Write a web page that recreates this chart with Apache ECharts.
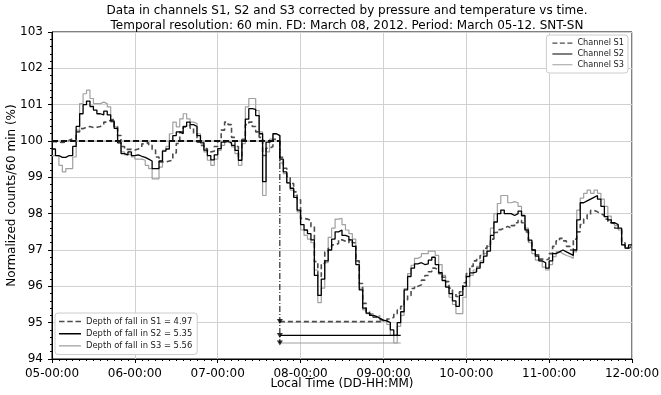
<!DOCTYPE html>
<html>
<head>
<meta charset="utf-8">
<script src="https://cdn.jsdelivr.net/npm/echarts@6/dist/echarts.min.js"></script>
<style>
html,body{margin:0;padding:0;background:#fff;}
#chart{width:661px;height:395px;}
</style>
</head>
<body>
<div id="chart"></div>
<script>
// Tick labels of the x axis (one per day)
var tickLabels = ['05-00:00','06-00:00','07-00:00','08-00:00','09-00:00','10-00:00','11-00:00','12-00:00'];

// Hourly values, hour 0 = 05-00:00
var s1 = [
99.98,99.97,99.96,99.97,100.02,100.06,100.06,100.25,100.34,100.38,100.4,100.37,100.38,100.4,100.45,100.52,100.57,100.6,100.4,100.15,
99.85,99.77,99.77,99.75,99.78,99.83,99.92,99.96,99.88,99.75,99.56,99.42,99.42,99.45,99.47,99.67,99.93,100.25,100.39,100.43,100.35,100.2,99.97,99.88,99.79,99.7,99.72,99.85,
100.0,100.3,100.52,100.45,100.1,99.85,99.56,100.05,100.45,100.52,100.4,100.25,100.1,99.6,99.8,99.85,100.05,100.0,
99.55,99.25,99.02,98.83,98.6,98.38,97.87,97.85,97.82,97.64,96.68,96.27,96.63,96.95,97.05,97.14,97.18,97.28,97.24,97.2,97.28,97.2,96.7,96.08,95.53,95.3,95.22,95.15,95.1,95.06,
95.03,95.1,95.15,95.25,95.35,95.45,95.63,95.75,95.94,96.0,96.04,96.17,96.3,96.4,96.5,96.45,96.35,96.25,96.13,95.95,95.8,95.72,95.85,96.1,96.35,96.55,96.7,96.77,96.85,97.05,97.15,97.3,97.48,97.56,97.6,97.65,
97.6,97.67,97.75,97.82,97.75,97.5,97.25,97.0,96.87,96.75,96.73,96.75,96.9,97.1,97.25,97.32,97.25,97.1,97.0,97.3,97.5,97.7,97.85,97.97,98.09,98.05,98.0,97.95,97.85,97.75,97.72,97.6,97.55,97.2,97.05,97.1
];
var s2 = [
99.78,99.6,99.55,99.55,99.6,99.6,99.85,100.4,100.75,101.0,101.1,100.95,100.85,100.75,100.72,100.82,100.72,100.55,100.35,99.95,
99.65,99.62,99.7,99.6,99.62,99.58,99.55,99.5,99.45,99.24,99.24,99.45,99.72,99.78,100.0,100.15,100.25,100.2,100.4,100.52,100.45,100.4,100.15,99.95,99.75,99.6,99.48,99.62,
99.79,99.97,100.0,99.95,99.88,99.74,99.47,100.0,100.6,100.89,100.87,100.7,100.2,98.88,99.97,100.0,100.2,100.15,
99.5,99.15,98.85,98.7,98.45,98.1,97.7,97.55,97.45,97.28,96.3,95.75,96.2,96.7,97.0,97.3,97.5,97.55,97.4,97.37,97.28,97.1,96.6,95.9,95.4,95.26,95.2,95.17,95.12,95.07,
95.05,95.0,94.8,94.65,95.0,95.3,95.9,96.27,96.5,96.62,96.65,96.6,96.62,96.72,96.8,96.6,96.38,96.16,95.98,95.8,95.6,95.45,95.75,96.0,96.27,96.37,96.4,96.5,96.65,96.83,96.97,97.4,97.77,98.0,98.1,98.0,
98.0,97.95,98.0,98.07,97.95,97.55,97.27,97.0,96.83,96.7,96.65,96.5,96.7,96.9,96.95,97.0,96.95,96.9,96.85,97.0,97.83,98.3,98.35,98.4,98.45,98.5,98.4,98.2,97.92,97.83,97.75,97.7,97.6,97.14,97.05,97.14
];
var s3 = [
99.6,99.6,99.33,99.15,99.24,99.24,99.56,100.3,101.03,101.3,101.4,101.17,101.03,101.03,101.07,101.03,100.94,100.52,100.39,100.0,
99.7,99.62,99.65,99.56,99.5,99.5,99.47,99.33,99.24,98.96,98.96,99.28,99.74,99.85,100.2,100.52,100.39,100.61,100.75,100.61,100.52,100.48,100.2,100.0,99.7,99.47,99.33,99.5,
99.74,99.88,99.97,99.93,99.84,99.65,99.33,99.93,100.94,101.17,101.17,100.84,100.25,98.5,99.7,100.05,100.2,100.15,
99.4,99.1,98.85,98.65,98.5,98.05,97.55,97.4,97.3,97.2,96.45,95.55,95.95,96.65,97.35,97.6,97.85,97.87,97.7,97.55,97.45,97.3,96.7,95.95,95.35,95.25,95.25,95.15,95.2,95.05,
95.05,94.95,94.65,94.44,94.9,95.2,95.94,96.35,96.58,96.77,96.82,96.9,96.9,96.97,96.97,96.85,96.6,96.3,96.0,95.7,95.5,95.25,95.25,95.7,96.0,96.3,96.45,96.55,96.7,96.9,97.1,97.6,98.0,98.28,98.5,98.5,
98.3,98.33,98.3,98.2,97.93,97.6,97.2,96.9,96.72,96.68,96.53,96.45,96.6,96.82,96.95,96.9,96.85,96.82,96.77,96.95,98.1,98.43,98.56,98.65,98.56,98.65,98.56,98.4,98.2,97.93,97.75,97.67,97.55,97.14,97.05,97.1
];

// Fall annotation values
var refLevel = 100;
var fdHour = 66;
var depthValues = [4.97, 5.35, 5.56];
var depthEndHours = [96, 101, 101];
var channelNames = ['Channel S1','Channel S2','Channel S3'];

function toPairs(arr){
  var out = arr.map(function(v,i){return [i,v];});
  out.push([arr.length, arr[arr.length-1]]);
  return out;
}
var depthLevels = depthValues.map(function(d){return +(refLevel - d).toFixed(2);});
var depthNames = depthValues.map(function(d,i){return 'Depth of fall in S'+(i+1)+' = '+d.toFixed(2);});

var styles = [
  {color:'#4d4d4d', width:1.6, type:[5,3]},
  {color:'#000000', width:1.3, type:'solid'},
  {color:'#a0a0a0', width:1.2, type:'solid'}
];
// legend icons: thin lines drawn as paths (box 24 x 10)
var icons = [
  'path://M0,0L0,10M0,4.2H6V5.8H0ZM9,4.2H15V5.8H9ZM18,4.2H24V5.8H18Z',
  'path://M0,0L0,10M0,4.3H24V5.7H0Z',
  'path://M0,0L0,10M0,4.4H24V5.6H0Z'
];
var zs = [3,4,2];
var chanData = [s1,s2,s3];

var series = [];
chanData.forEach(function(arr,i){
  series.push({
    name: channelNames[i], type:'line', step:'end', data: toPairs(arr),
    symbol:'none', z: zs[i], animation:false,
    lineStyle: styles[i], itemStyle:{color: styles[i].color}
  });
});
// reference line at 100 before the fall
series.push({type:'line', data:[[0,refLevel],[fdHour,refLevel]], symbol:'none', animation:false, z:5,
  lineStyle:{color:'#a0a0a0', width:1.2}});
series.push({type:'line', data:[[0,refLevel],[fdHour,refLevel]], symbol:'none', animation:false, z:6,
  lineStyle:{color:'#111', width:2, type:[6,3]}});
// vertical line at FD
series.push({type:'line', data:[[fdHour,refLevel],[fdHour,depthLevels[2]]], symbol:'none', animation:false, z:6,
  lineStyle:{color:'#000', width:1, type:[6,2,1,2]}});
// depth lines
depthLevels.forEach(function(lv,i){
  series.push({
    name: depthNames[i], type:'line', data:[[fdHour,lv],[depthEndHours[i],lv]],
    symbol:'none', animation:false, z:6,
    lineStyle: styles[i], itemStyle:{color: styles[i].color}
  });
});
// arrow heads
series.push({type:'scatter', data: depthLevels.map(function(lv){return [fdHour, lv];}),
  symbol:'triangle', symbolRotate:180, symbolSize:[6,5], animation:false, z:7,
  itemStyle:{color:'#000'}});

var chart = echarts.init(document.getElementById('chart'), null, {renderer:'canvas'});
chart.setOption({
  backgroundColor:'#ffffff',
  animation:false,
  textStyle:{fontFamily:'DejaVu Sans'},
  title:{
    text:'Data in channels S1, S2 and S3 corrected by pressure and temperature vs time.\nTemporal resolution: 60 min. FD: March 08, 2012. Period: March 05-12. SNT-SN',
    left: 342, textAlign:'center', top:-2,
    textStyle:{fontFamily:'DejaVu Sans', fontSize:12, fontWeight:'normal', color:'#000', lineHeight:15}
  },
  legend:[
    {
      data: channelNames.map(function(n,i){return {name:n, icon:icons[i], itemStyle:{color:styles[i].color}};}),
      orient:'vertical', right:33, top:35,
      itemWidth:20, itemHeight:10, itemGap:2.5,
      padding:[4,4,4,6], borderColor:'#cccccc', borderWidth:1, borderRadius:3, backgroundColor:'#fff',
      textStyle:{fontFamily:'DejaVu Sans', fontSize:8.2, color:'#222'}
    },
    {
      data: depthNames.map(function(n,i){return {name:n, icon:icons[i], itemStyle:{color:styles[i].color}};}),
      orient:'vertical', left:55, top:313,
      itemWidth:22, itemHeight:10, itemGap:3,
      padding:[4,5,4,4], borderColor:'#cccccc', borderWidth:1, borderRadius:3, backgroundColor:'#fff',
      textStyle:{fontFamily:'DejaVu Sans', fontSize:8.4, color:'#222'}
    }
  ],
  grid:{left:52, right:29, top:32, bottom:36, outerBoundsMode:'none', containLabel:false,
    show:true, borderColor:'#000', borderWidth:1, backgroundColor:'transparent'},
  xAxis:{
    type:'value', min:0, max:168, interval:24,
    name:'Local Time (DD-HH:MM)', nameLocation:'middle', nameGap:19, nameMoveOverlap:false,
    nameTextStyle:{fontFamily:'DejaVu Sans', fontSize:12, color:'#000'},
    axisLine:{show:true, lineStyle:{color:'#000'}},
    axisTick:{show:true, length:4, lineStyle:{color:'#000'}},
    minorTick:{show:true, splitNumber:12, length:2, lineStyle:{color:'#000'}},
    splitLine:{show:true, lineStyle:{color:'#d0d0d0', width:1}},
    axisLabel:{fontFamily:'DejaVu Sans', fontSize:12, color:'#000', margin:8.5,
      formatter:function(v){return tickLabels[Math.round(v/24)];}}
  },
  yAxis:{
    type:'value', min:94, max:103, interval:1,
    name:'Normalized counts/60 min (%)', nameLocation:'middle', nameGap:34, nameMoveOverlap:false,
    nameTextStyle:{fontFamily:'DejaVu Sans', fontSize:12, color:'#000'},
    axisLine:{show:true, lineStyle:{color:'#000'}},
    axisTick:{show:true, length:4, lineStyle:{color:'#000'}},
    minorTick:{show:true, splitNumber:5, length:2, lineStyle:{color:'#000'}},
    splitLine:{show:true, lineStyle:{color:'#d0d0d0', width:1}},
    axisLabel:{fontFamily:'DejaVu Sans', fontSize:12, color:'#000', margin:9}
  },
  series: series
});
</script>
</body>
</html>
